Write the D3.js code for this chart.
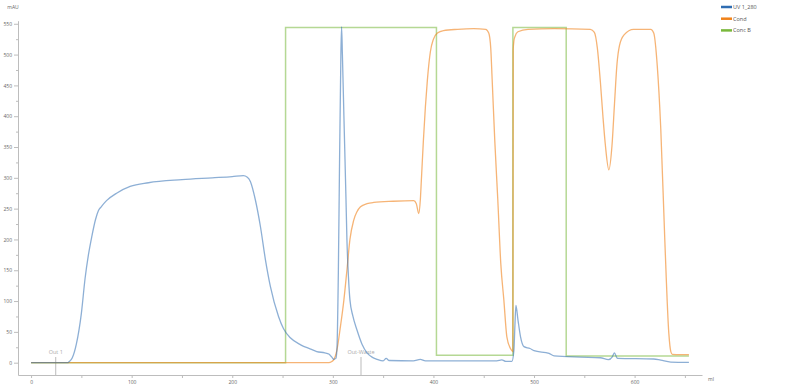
<!DOCTYPE html>
<html>
<head>
<meta charset="utf-8">
<script src="https://cdn.jsdelivr.net/npm/d3@7"></script>
<style>
  body { margin: 0; background: #fff; }
  text { font-family: "Open Sans", "DejaVu Sans", sans-serif; }
</style>
</head>
<body>
<div id="my_dataviz"></div>
<script>
// [ml, mAU]
const uvPoints = [
  [0, 0], [36, 0], [38, 2], [41, 8], [45, 30], [50, 80], [53.7, 137], [57, 175], [60.4, 205],
  [64, 232], [67, 247], [69.7, 253], [75, 263], [85, 275], [98.5, 286], [116.7, 292], [150, 297],
  [180, 300], [200, 302], [211, 303.5], [215, 301], [218, 294], [223, 264], [228, 221],
  [233, 167], [238, 123], [246, 75], [251, 55], [258, 40], [268, 29], [278, 22], [284, 18],
  [292, 16], [296, 14], [299, 9], [301, 5.5], [303, 7], [304, 20], [305.5, 150], [306.5, 300],
  [308, 500], [308.7, 545], [309.5, 500], [311, 400], [313, 270], [314, 200], [315.5, 140],
  [317, 102], [320, 75], [324, 53], [329, 30], [334, 16], [339, 9], [344, 5.5], [350, 3],
  [353, 7], [356, 3.5], [380, 3], [387, 5.5], [392, 3], [430, 3], [463, 3], [468, 4.5],
  [472, 2], [478, 2], [480, 20], [481, 60], [482, 93], [484, 70], [486.6, 42], [490, 26],
  [496, 23], [500, 19.5], [515, 15], [520, 11], [546, 9], [566, 8], [574, 5], [578, 10],
  [580, 16], [582, 9], [583, 7], [619, 6], [626, 4], [636, 1], [654, 0.5]
];

const condPoints = [
  [0, 0], [296, 0], [299, 2], [301, 5], [304, 20], [307.5, 58], [311, 102], [314, 150],
  [317, 200], [320.7, 231], [324, 245], [327.5, 253], [334, 258], [340.6, 260], [360, 262],
  [380.4, 263], [383, 258], [385.4, 242], [387, 265], [388, 296], [390, 360], [392, 415],
  [394, 459], [397, 505], [400, 525], [404, 535], [410, 539], [424, 541], [440, 542],
  [452, 541], [455, 535], [457, 510], [458.4, 459], [461, 360], [464, 264], [467, 160],
  [470, 102], [473, 42], [476.6, 23], [478, 19.5], [479, 18], [479.3, 507], [480, 522],
  [481, 529], [484, 537], [494, 541], [520, 542], [556, 541], [560, 536], [563, 510],
  [566, 455], [568.5, 400], [571, 352], [574.4, 313], [577.5, 352], [580, 420], [582.5, 485],
  [585, 515], [589.5, 532], [599, 541], [616, 541], [619, 535], [622.6, 480], [626, 380],
  [630, 200], [634, 48], [636, 18], [637.5, 13.6], [645, 13], [654, 13]
];

const concPoints = [
  [0, 0], [253, 0], [253, 544], [403, 544], [403, 12], [479, 12], [479, 544],
  [532, 544], [532, 11], [654, 11]
];

const seriesNames = ["UV 1_280", "Cond", "Conc B"];
const seriesColors = ["#2f6db2", "#f0821a", "#79b83c"];

const yTicks = [0, 50, 100, 150, 200, 250, 300, 350, 400, 450, 500, 550];
const xTicks = [0, 100, 200, 300, 400, 500, 600];

const marks = [
  { ml: 24.5, label: "Out 1" },
  { ml: 328, label: "Out-Waste" }
];

let width = 795, height = 390;

let svg = d3.select("#my_dataviz")
  .append("svg")
  .attr("width", width)
  .attr("height", height);

let x = d3.scaleLinear().domain([-13, 667]).range([18, 702]);
let y = d3.scaleLinear().domain([-20, 555]).range([375, 20.7]);

const axisColor = "#bdbdbd";
const labelColor = "#666";

// y axis
let yAxis = svg.append("g")
  .attr("transform", "translate(" + x(-13) + ",0)")
  .call(d3.axisLeft(y).tickValues(yTicks).tickSize(4).tickPadding(2).tickSizeOuter(0));
yAxis.selectAll(".tick line").attr("stroke", axisColor);
yAxis.select(".domain").attr("stroke", axisColor);
yAxis.selectAll("text").attr("fill", labelColor).style("font-size", "5px");

let yMinor = svg.append("g")
  .attr("transform", "translate(" + x(-13) + ",0)")
  .call(d3.axisLeft(y).tickValues(d3.range(25, 550, 50)).tickSize(2).tickFormat("").tickSizeOuter(0));
yMinor.select(".domain").remove();
yMinor.selectAll(".tick line").attr("stroke", axisColor);

// x axis
let xAxis = svg.append("g")
  .attr("transform", "translate(0," + y(-20) + ")")
  .call(d3.axisBottom(x).tickValues(xTicks).tickSize(3).tickPadding(2).tickSizeOuter(0));
xAxis.selectAll(".tick line").attr("stroke", axisColor);
xAxis.select(".domain").attr("stroke", axisColor);
xAxis.selectAll("text").attr("fill", labelColor).style("font-size", "5px");

let xMinor = svg.append("g")
  .attr("transform", "translate(0," + y(-20) + ")")
  .call(d3.axisBottom(x).tickValues(d3.range(50, 667, 100)).tickSize(3).tickFormat("").tickSizeOuter(0));
xMinor.select(".domain").remove();
xMinor.selectAll(".tick line").attr("stroke", axisColor);

svg.append("text")
  .attr("x", 13).attr("y", 9)
  .style("text-anchor", "middle")
  .style("font-size", "5px")
  .attr("fill", labelColor)
  .text("mAU");

svg.append("text")
  .attr("x", 708).attr("y", 381)
  .style("font-size", "5px")
  .attr("fill", labelColor)
  .text("ml");

// fraction marks
marks.forEach(m => {
  svg.append("line")
    .attr("x1", x(m.ml)).attr("x2", x(m.ml))
    .attr("y1", 357).attr("y2", y(-20))
    .attr("stroke", "#aaa")
    .attr("stroke-width", 0.8);
  svg.append("text")
    .attr("x", x(m.ml)).attr("y", 354)
    .style("text-anchor", "middle")
    .style("font-size", "5.5px")
    .attr("fill", "#aaa")
    .text(m.label);
});

let line = d3.line()
  .x(d => x(d[0]))
  .y(d => y(d[1]));

let smooth = d3.line()
  .curve(d3.curveMonotoneX)
  .x(d => x(d[0]))
  .y(d => y(d[1]));

svg.append("path")
  .datum(concPoints)
  .attr("fill", "none")
  .attr("stroke", seriesColors[2])
  .attr("stroke-opacity", 0.55)
  .attr("stroke-width", 1.5)
  .attr("d", line);

svg.append("path")
  .datum(condPoints)
  .attr("fill", "none")
  .attr("stroke", seriesColors[1])
  .attr("stroke-opacity", 0.6)
  .attr("stroke-width", 1.3)
  .attr("d", smooth);

svg.append("path")
  .datum(uvPoints)
  .attr("fill", "none")
  .attr("stroke", seriesColors[0])
  .attr("stroke-opacity", 0.55)
  .attr("stroke-width", 1.3)
  .attr("d", smooth);

// legend
let legend = svg.append("g");
seriesNames.forEach((name, i) => {
  let ly = 7 + i * 11.7;
  legend.append("line")
    .attr("x1", 721).attr("x2", 732)
    .attr("y1", ly).attr("y2", ly)
    .attr("stroke", seriesColors[i])
    .attr("stroke-width", 2.5);
  legend.append("text")
    .attr("x", 733).attr("y", ly + 2)
    .style("font-size", "5.5px")
    .attr("fill", "#555")
    .text(name);
});
</script>
</body>
</html>
